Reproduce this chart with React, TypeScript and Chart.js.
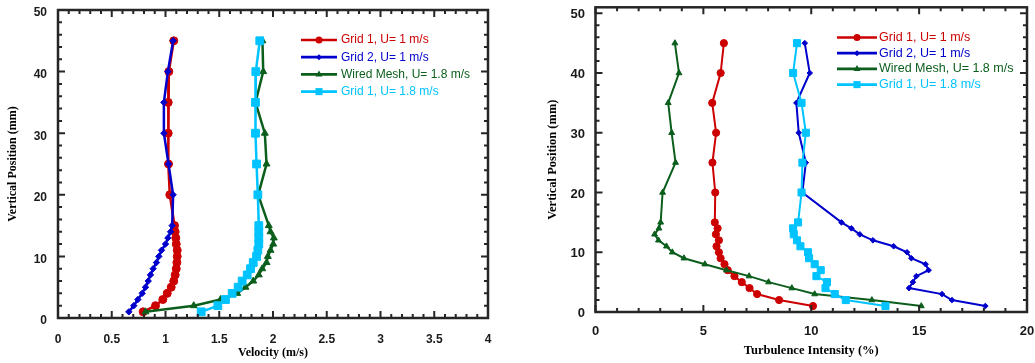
import React, { useEffect, useRef } from 'react';
import { Chart, registerables } from 'chart.js';

Chart.register(...registerables);

// ---------- data ----------
const positions = [45, 40, 35, 30, 25, 20, 15, 14, 13, 12, 11, 10, 9, 8, 7, 6, 5, 4, 3, 2, 1];

const velGrid1U1 = [1.077, 1.031, 1.025, 1.025, 1.028, 1.04, 1.084, 1.09, 1.096, 1.1, 1.109, 1.109, 1.106, 1.1, 1.09, 1.077, 1.053, 1.016, 0.975, 0.907, 0.792];
const velGrid2U1 = [1.071, 1.022, 0.985, 0.985, 1.028, 1.071, 1.062, 1.047, 1.022, 1.0, 0.963, 0.938, 0.916, 0.885, 0.86, 0.839, 0.814, 0.783, 0.743, 0.705, 0.659];
const velMeshU18 = [1.902, 1.909, 1.837, 1.924, 1.94, 1.862, 1.961, 1.977, 2.008, 2.002, 1.977, 1.952, 1.94, 1.9, 1.868, 1.816, 1.744, 1.667, 1.512, 1.263, 0.814];
const velGrid1U18 = [1.877, 1.84, 1.837, 1.837, 1.847, 1.859, 1.868, 1.868, 1.868, 1.868, 1.859, 1.847, 1.816, 1.791, 1.76, 1.713, 1.676, 1.62, 1.558, 1.487, 1.332];

const tiGrid1U1 = [5.95, 5.8, 5.41, 5.59, 5.42, 5.55, 5.53, 5.66, 5.58, 5.72, 5.61, 5.72, 5.8, 5.98, 6.13, 6.44, 6.78, 7.14, 7.49, 8.51, 10.08];
const tiGrid2U1 = [9.7, 9.93, 9.31, 9.42, 9.75, 9.59, 11.4, 11.86, 12.25, 12.86, 13.82, 14.44, 14.64, 15.3, 15.44, 14.87, 14.71, 14.53, 16.06, 16.52, 18.07];
const tiMeshU18 = [3.68, 3.87, 3.37, 3.53, 3.71, 3.11, 3.02, 2.94, 2.74, 2.92, 3.29, 3.56, 4.1, 5.07, 6.07, 7.12, 8.02, 9.1, 10.16, 12.81, 15.1];
const tiGrid1U18 = [9.34, 9.16, 9.55, 9.75, 9.59, 9.55, 9.39, 9.16, 9.19, 9.34, 9.5, 9.85, 9.9, 10.16, 10.44, 10.24, 10.73, 10.66, 11.09, 11.6, 13.44];

const seriesLabels = ['Grid 1, U= 1 m/s', 'Grid 2, U= 1 m/s', 'Wired Mesh, U= 1.8 m/s', 'Grid 1, U= 1.8 m/s'];
const seriesColors = ['#CC0000', '#0000CC', '#0B5E1C', '#00C3FF'];
const seriesMarkers = ['circle', 'rectRot', 'triangle', 'rect'];

const velocityTicks = [0, 0.5, 1, 1.5, 2, 2.5, 3, 3.5, 4];
const turbulenceTicks = [0, 5, 10, 15, 20];
const positionTicks = [0, 10, 20, 30, 40, 50];

const velocityTitle = 'Velocity (m/s)';
const turbulenceTitle = 'Turbulence Intensity (%)';
const positionTitle = 'Vertical Position (mm)';

// ---------- helpers ----------
function drawMarker(ctx: CanvasRenderingContext2D, style: string, x: number, y: number, r: number) {
  ctx.beginPath();
  if (style === 'circle') {
    ctx.arc(x, y, r, 0, Math.PI * 2);
  } else if (style === 'rectRot') {
    ctx.moveTo(x - r, y);
    ctx.lineTo(x, y - r);
    ctx.lineTo(x + r, y);
    ctx.lineTo(x, y + r);
    ctx.closePath();
  } else if (style === 'triangle') {
    const h = r * 1.5;
    const w = r * Math.sqrt(3);
    ctx.moveTo(x, y - r);
    ctx.lineTo(x + w / 2, y - r + h);
    ctx.lineTo(x - w / 2, y - r + h);
    ctx.closePath();
  } else {
    const s = r * Math.SQRT1_2;
    ctx.rect(x - s, y - s, 2 * s, 2 * s);
  }
  ctx.fill();
}

function minorValues(min: number, max: number, step: number, majors: number[]) {
  const out: number[] = [];
  const n = Math.round((max - min) / step);
  for (let i = 0; i <= n; i++) {
    const v = Math.round((min + i * step) * 1000) / 1000;
    if (!majors.some((m) => Math.abs(m - v) < 1e-6)) out.push(v);
  }
  return out;
}

interface PanelSpec {
  width: number;
  height: number;
  left: number;
  area: { left: number; top: number; right: number; bottom: number };
  xMin: number;
  xMax: number;
  yMin: number;
  yMax: number;
  xTicks: number[];
  yTicks: number[];
  xMinor: number;
  yMinor: number;
  xTitle: string;
  yTitle: string;
  series: number[][];
  tickFont: number;
  titleFont: number;
  xTickPad: number;
  yTickPad: number;
  yLabelOffset: number;
  xTitlePad: number;
  yTitlePad: number;
  radii: number[];
  lineWidth: number;
  legend: { x0: number; x1: number; textX: number; y0: number; dy: number; font: number; radii: number[]; lineWidth: number };
}

function Panel({ spec }: { spec: PanelSpec }) {
  const ref = useRef<HTMLCanvasElement | null>(null);
  useEffect(() => {
    const canvas = ref.current;
    if (!canvas) return;
    const a = spec.area;
    const sansBold = { family: '"Liberation Sans", Arial, sans-serif', size: spec.tickFont, weight: 'bold' as const };
    const serifBold = { family: '"Liberation Serif", "Times New Roman", serif', size: spec.titleFont, weight: 'bold' as const };

    const framePlugin = {
      id: 'frameTicks',
      afterDatasetsDraw(chart: any) {
        const ctx: CanvasRenderingContext2D = chart.ctx;
        const ca = chart.chartArea;
        const xs = chart.scales.x;
        const ys = chart.scales.y;
        ctx.save();
        ctx.strokeStyle = '#262626';
        ctx.lineWidth = 2;
        const xMinors = minorValues(spec.xMin, spec.xMax, spec.xMinor, spec.xTicks);
        const lastY = spec.yTicks[spec.yTicks.length - 1];
        const yMinors = minorValues(spec.yMin, lastY, spec.yMinor, spec.yTicks);
        const tx = (vals: number[], len: number) => {
          vals.forEach((v) => {
            const p = xs.getPixelForValue(v);
            ctx.beginPath();
            ctx.moveTo(p, ca.bottom);
            ctx.lineTo(p, ca.bottom - len);
            ctx.moveTo(p, ca.top);
            ctx.lineTo(p, ca.top + len);
            ctx.stroke();
          });
        };
        const ty = (vals: number[], len: number) => {
          vals.forEach((v) => {
            const p = ys.getPixelForValue(v);
            ctx.beginPath();
            ctx.moveTo(ca.left, p);
            ctx.lineTo(ca.left + len, p);
            ctx.moveTo(ca.right, p);
            ctx.lineTo(ca.right - len, p);
            ctx.stroke();
          });
        };
        tx(spec.xTicks, 7);
        tx(xMinors, 4);
        ty(spec.yTicks, 7);
        ty(yMinors, 4);
        ctx.lineWidth = 2.5;
        ctx.strokeRect(ca.left, ca.top, ca.right - ca.left, ca.bottom - ca.top);
        ctx.restore();
      },
      afterDraw(chart: any) {
        const ctx: CanvasRenderingContext2D = chart.ctx;
        const L = spec.legend;
        ctx.save();
        seriesLabels.forEach((label, i) => {
          const y = L.y0 + i * L.dy;
          ctx.strokeStyle = seriesColors[i];
          ctx.fillStyle = seriesColors[i];
          ctx.lineWidth = L.lineWidth;
          ctx.beginPath();
          ctx.moveTo(L.x0, y);
          ctx.lineTo(L.x1, y);
          ctx.stroke();
          drawMarker(ctx, seriesMarkers[i], (L.x0 + L.x1) / 2, y, L.radii[i]);
          ctx.font = `${L.font}px "Liberation Sans", Arial, sans-serif`;
          ctx.textBaseline = 'middle';
          ctx.textAlign = 'left';
          ctx.fillText(label, L.textX, y);
        });
        ctx.restore();
      },
    };

    const datasets = spec.series.map((vals, i) => ({
      label: seriesLabels[i],
      data: positions.map((p, j) => ({ x: vals[j], y: p })),
      showLine: true,
      borderColor: seriesColors[i],
      backgroundColor: seriesColors[i],
      pointBackgroundColor: seriesColors[i],
      pointBorderColor: seriesColors[i],
      pointBorderWidth: 1,
      pointStyle: seriesMarkers[i],
      pointRadius: spec.radii[i],
      borderWidth: spec.lineWidth,
      tension: 0,
      order: spec.series.length - i,
    }));

    const chart = new Chart(canvas, {
      type: 'scatter',
      data: { datasets },
      plugins: [framePlugin],
      options: {
        responsive: false,
        animation: false,
        layout: { padding: { left: 0, top: a.top, right: spec.width - a.right, bottom: 0 } },
        plugins: { legend: { display: false }, tooltip: { enabled: false } },
        scales: {
          x: {
            type: 'linear',
            min: spec.xMin,
            max: spec.xMax,
            grid: { display: false, drawTicks: false },
            border: { display: false },
            afterBuildTicks: (s: any) => {
              s.ticks = spec.xTicks.map((v) => ({ value: v }));
            },
            afterFit: (s: any) => {
              s.height = spec.height - a.bottom;
              s.paddingLeft = 0;
              s.paddingRight = 0;
            },
            ticks: {
              padding: spec.xTickPad,
              font: sansBold,
              color: '#1a1a1a',
              maxRotation: 0,
              autoSkip: false,
              callback: (v: any) => String(v),
            },
            title: { display: true, text: spec.xTitle, font: serifBold, color: '#000', padding: { top: 0, bottom: spec.xTitlePad } },
          },
          y: {
            type: 'linear',
            min: spec.yMin,
            max: spec.yMax,
            grid: { display: false, drawTicks: false },
            border: { display: false },
            afterBuildTicks: (s: any) => {
              s.ticks = spec.yTicks.map((v) => ({ value: v }));
            },
            afterFit: (s: any) => {
              s.width = a.left;
              s.paddingTop = 0;
              s.paddingBottom = 0;
            },
            ticks: {
              padding: spec.yTickPad,
              font: sansBold,
              color: '#1a1a1a',
              labelOffset: spec.yLabelOffset,
              autoSkip: false,
              callback: (v: any) => String(v),
            },
            title: { display: true, text: spec.yTitle, font: serifBold, color: '#000', padding: { top: spec.yTitlePad, bottom: 0 } },
          },
        },
      } as any,
    });
    return () => chart.destroy();
  }, [spec]);

  return (
    <canvas
      ref={ref}
      width={spec.width}
      height={spec.height}
      style={{ position: 'absolute', left: spec.left, top: 0, width: spec.width, height: spec.height }}
    />
  );
}

const leftSpec: PanelSpec = {
  width: 520,
  height: 363,
  left: 0,
  area: { left: 58, top: 10, right: 488, bottom: 318 },
  xMin: 0,
  xMax: 4,
  yMin: 0,
  yMax: 50,
  xTicks: velocityTicks,
  yTicks: positionTicks,
  xMinor: 0.1,
  yMinor: 2,
  xTitle: velocityTitle,
  yTitle: positionTitle,
  series: [velGrid1U1, velGrid2U1, velMeshU18, velGrid1U18],
  tickFont: 12,
  titleFont: 12,
  xTickPad: 14,
  yTickPad: 11,
  yLabelOffset: 3,
  xTitlePad: 3,
  yTitlePad: 6,
  radii: [4, 3.2, 4, 5.5],
  lineWidth: 2.5,
  legend: { x0: 301, x1: 337, textX: 341, y0: 40, dy: 17.2, font: 12, radii: [3.5, 3, 4, 5], lineWidth: 2.7 },
};

const rightSpec: PanelSpec = {
  width: 515,
  height: 363,
  left: 520,
  area: { left: 75.5, top: 7.3, right: 507, bottom: 312 },
  xMin: 0,
  xMax: 20,
  yMin: 0,
  yMax: 51,
  xTicks: turbulenceTicks,
  yTicks: positionTicks,
  xMinor: 1,
  yMinor: 2,
  xTitle: turbulenceTitle,
  yTitle: positionTitle,
  series: [tiGrid1U1, tiGrid2U1, tiMeshU18, tiGrid1U18],
  tickFont: 13,
  titleFont: 12.5,
  xTickPad: 12,
  yTickPad: 10.5,
  yLabelOffset: 1.5,
  xTitlePad: 4.8,
  yTitlePad: 25.5,
  radii: [3.6, 2.8, 3.4, 5],
  lineWidth: 2,
  legend: { x0: 317, x1: 357, textX: 359, y0: 37.5, dy: 15.7, font: 12.5, radii: [3.5, 3, 4, 5], lineWidth: 2.7 },
};

export default function App() {
  return (
    <div style={{ position: 'absolute', left: 0, top: 0, width: 1035, height: 363, background: '#fff' }}>
      <Panel spec={leftSpec} />
      <Panel spec={rightSpec} />
    </div>
  );
}
